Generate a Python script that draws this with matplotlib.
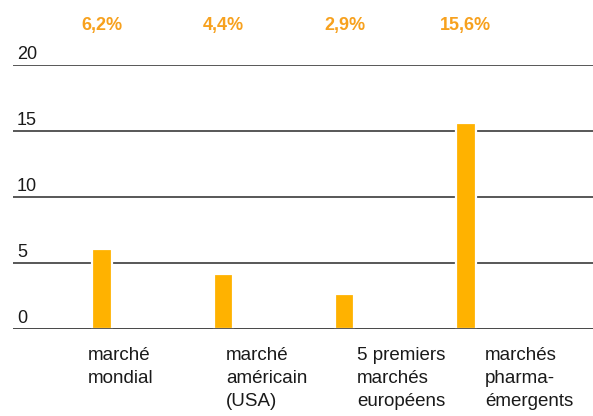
import numpy as np
import matplotlib.pyplot as plt

plt.rcParams['font.family'] = ['Liberation Sans', 'DejaVu Sans']

# Data
categories = ['marché\nmondial', 'marché\naméricain\n(USA)',
              '5 premiers\nmarchés\neuropéens', 'marchés\npharma-\némergents']
values = [6.1, 4.2, 2.7, 15.6]
growth_labels = ['6,2%', '4,4%', '2,9%', '15,6%']
yticks = [0, 5, 10, 15, 20]

# Layout
label_shift = [-0.115, 0.022, 0.102, 0.157]
bar_color = '#FFB200'
label_color = '#F7A11E'
grid_color = '#4a4a4a'

fig = plt.figure(figsize=(5.93, 4.16), dpi=100)
ax = fig.add_axes([13 / 593, (416 - 329.3) / 416, 580 / 593, 264.3 / 416])

x = np.arange(len(values))
for t in yticks:
    ax.axhline(t, color=grid_color, lw=1.3, zorder=1)
ax.bar(x, values, width=0.16, color=bar_color, edgecolor='white',
       linewidth=1.6, zorder=2)
ax.axhline(0, color=grid_color, lw=1.3, zorder=3)

ax.set_xlim(-0.734, 4.048)
ax.set_ylim(0, 20)
ax.axis('off')

# y labels sitting above the grid lines
for t in yticks:
    ax.annotate(str(t), xy=(0.007, t), xycoords=ax.get_yaxis_transform(),
                xytext=(0, 1.5), textcoords='offset points',
                ha='left', va='bottom', fontsize=13, color='#1a1a1a')

# growth rates on top
for xi, lab in zip(x, growth_labels):
    ax.text(xi, 1.148, lab, transform=ax.get_xaxis_transform(),
            ha='center', va='center', fontsize=13, fontweight='bold',
            color=label_color)

# category labels below
for xi, cat, dx in zip(x, categories, label_shift):
    ax.text(xi + dx, -0.068, cat, transform=ax.get_xaxis_transform(),
            ha='left', va='top', fontsize=13.5, linespacing=1.45,
            color='#1a1a1a')

fig.savefig('out.png', dpi=100)
